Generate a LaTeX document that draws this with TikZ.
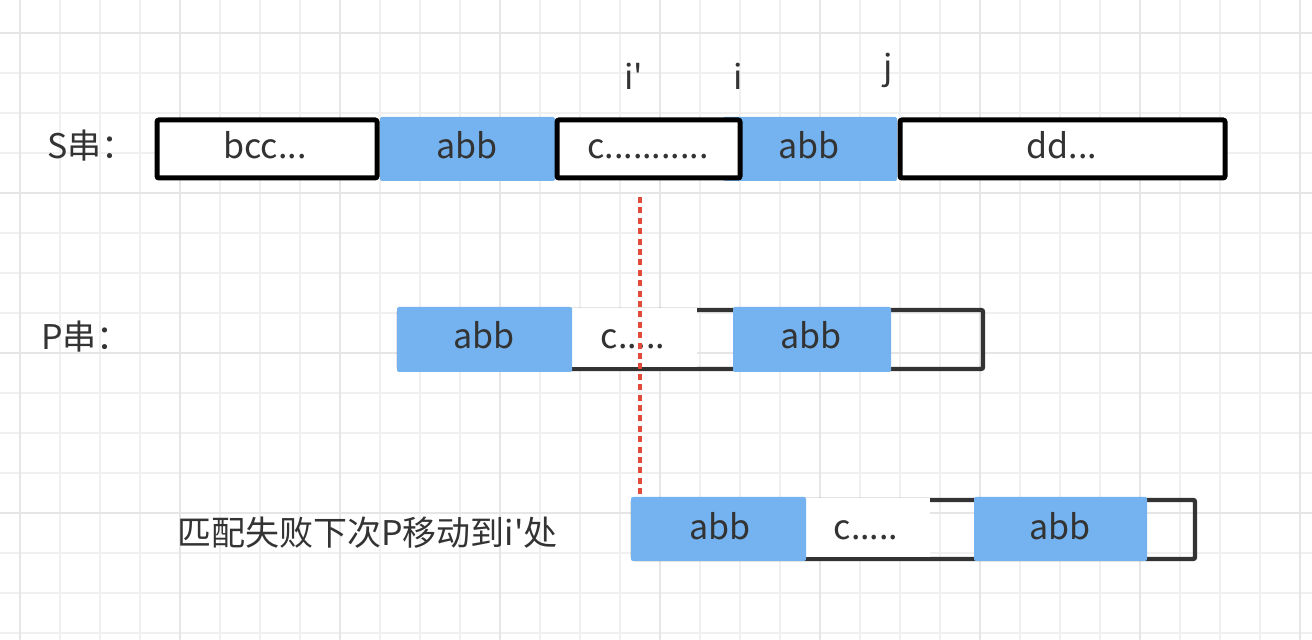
\documentclass[tikz,border=0pt]{standalone}
\usepackage{fontspec}
\newfontfamily\cjk{Noto Sans CJK SC}
\definecolor{segblue}{HTML}{74B3EF}
\definecolor{gridminor}{HTML}{F0F0F0}
\definecolor{gridmajor}{HTML}{E6E6E6}
\definecolor{textgray}{HTML}{333333}
\definecolor{cutred}{HTML}{E24B3B}
\tikzset{
    every node/.style={font=\cjk\fontsize{17}{20}\selectfont, text=textgray, inner sep=0pt},
    seg/.style={anchor=base},
    blueseg/.style={fill=segblue, rounded corners=1pt},
    sbox/.style={draw=black, line width=2.5pt, fill=white, rounded corners=1pt},
    pbox/.style={draw=textgray, line width=2.2pt, rounded corners=1pt},
    minorline/.style={draw=gridminor, line width=1pt},
    majorline/.style={draw=gridmajor, line width=1.2pt},
    cutline/.style={draw=cutred, line width=2pt, dash pattern=on 3pt off 2.2pt},
}

\begin{document}
\begin{tikzpicture}[x=0.5pt, y=-0.5pt]
        \useasboundingbox (0,0) rectangle (1312,640);
        \fill[white] (0,0) rectangle (1312,640);
        
        % background grid
        \foreach \x in {20,60,...,1300} \draw[minorline] (\x,0) -- (\x,640);
        \foreach \y in {33,73,...,633} \draw[minorline] (0,\y) -- (1312,\y);
        \foreach \x in {20,180,...,1300} \draw[majorline] (\x,0) -- (\x,640);
        \foreach \y in {33,193,...,513} \draw[majorline] (0,\y) -- (1312,\y);
        
        % S row
        \foreach \a/\b in {380/555, 723/897} {
            \fill[blueseg] (\a,117) rectangle (\b,181);
        }
        \draw[sbox] (157,120) rectangle (377,178);
        \draw[sbox] (557,120) rectangle (740,178);
        \draw[sbox] (900,120) rectangle (1225,178);
        
        % P row
        \draw[pbox] (399,310) rectangle (983,369);
        \fill[white] (572,308) rectangle (697,367);
        \foreach \a/\b in {397/572, 733/891} {
            \fill[blueseg] (\a,307) rectangle (\b,372);
        }
        
        % P after the shift
        \draw[pbox] (633,500) rectangle (1195,559);
        \fill[white] (805,498) rectangle (930,557);
        \foreach \a/\b in {631/806, 974/1147} {
            \fill[blueseg] (\a,497) rectangle (\b,561);
        }
        
        % texts
        \node[anchor=base west] (slabel) at (47,159) {S串：};
        \node[anchor=base west] (plabel) at (41,350) {P串：};
        \node[anchor=base west] (note) at (177,546) {匹配失败下次P移动到i'处};
        
        \node[seg] (iprime) at (634,90) {i'};
        \node[seg] (icur) at (738,90) {i};
        \node[seg] (jcur) at (888,80) {j};
        
        \node[seg] (s1) at (265,159) {bcc...};
        \node[seg] (s2) at (467,159) {abb};
        \node[seg] (s3) at (648,159) {c...........};
        \node[seg] (s4) at (809,159) {abb};
        \node[seg] (s5) at (1062,159) {dd...};
        
        \node[seg] (p1) at (484,349) {abb};
        \node[seg] (p2) at (633,349) {c.....};
        \node[seg] (p3) at (811,349) {abb};
        
        \node[seg] (q1) at (720,540) {abb};
        \node[seg] (q2) at (866,540) {c.....};
        \node[seg] (q3) at (1060,540) {abb};
        
        % where P moves next
        \coordinate (cut top) at (640,197);
        \coordinate (cut end) at (640,497);
        \draw[cutline] (cut top) -- (cut end);
\end{tikzpicture}
\end{document}
